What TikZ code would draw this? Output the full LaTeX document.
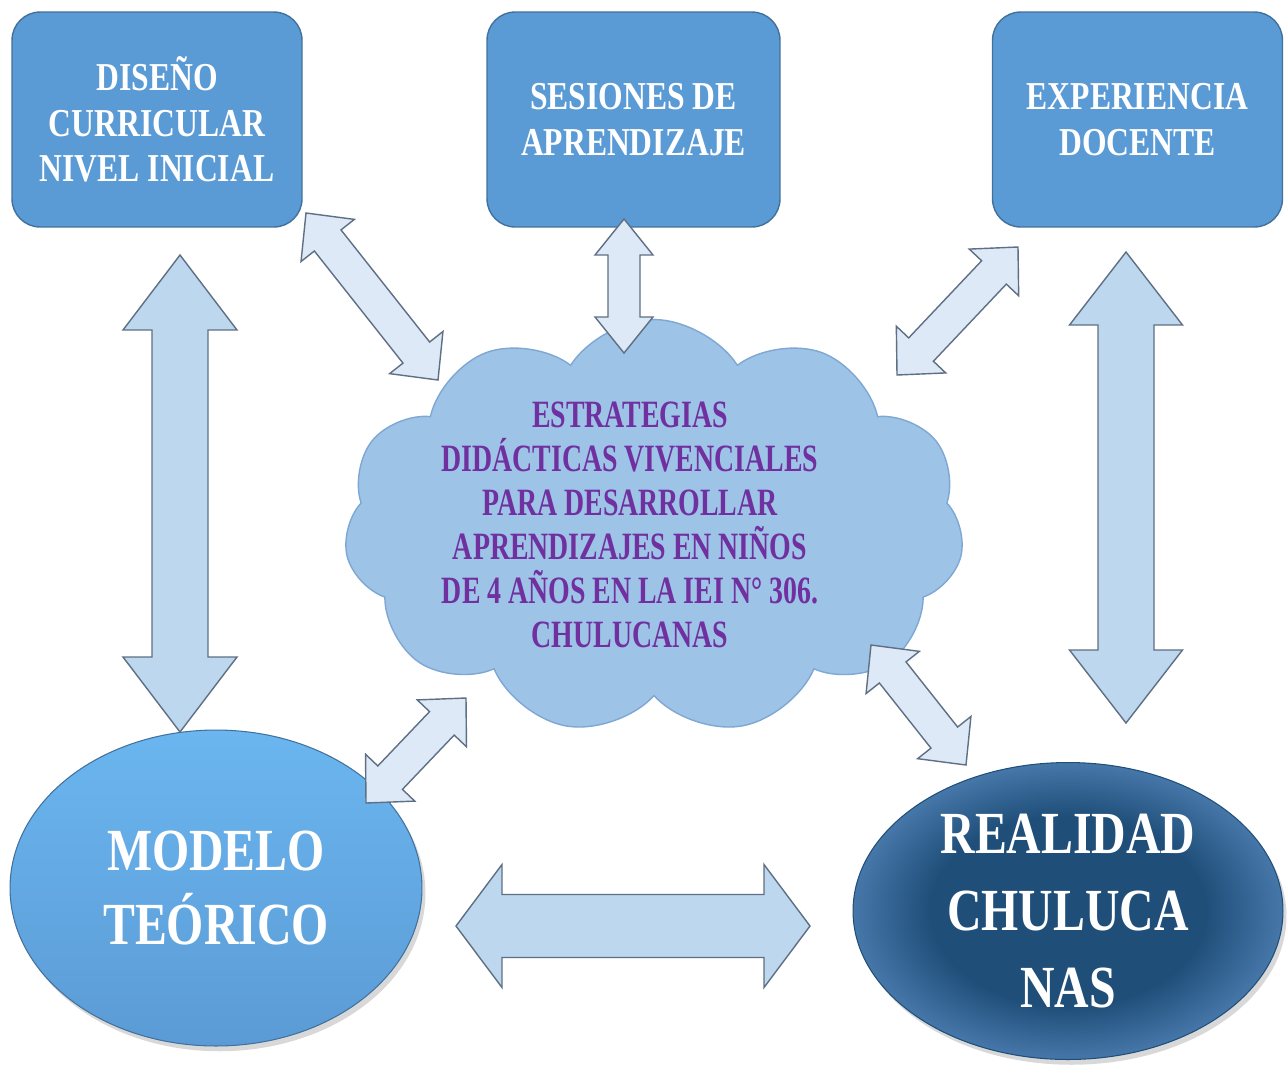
\documentclass[tikz,border=0pt]{standalone}
\usepackage{fontspec}
\setmainfont{Liberation Serif}
\newfontfamily\condfont[FakeStretch=0.8]{Liberation Serif}
\newfontfamily\cloudfont[FakeStretch=0.72]{Liberation Serif}
\usetikzlibrary{calc,shapes.geometric,shapes.symbols,shadows}
\definecolor{boxblue}{HTML}{5B9BD5}
\definecolor{boxline}{HTML}{41719C}
\definecolor{arrowfill}{HTML}{BDD7EE}
\definecolor{arrowpale}{HTML}{DDE9F6}
\definecolor{arrowline}{HTML}{5F6F84}
\definecolor{cloudfill}{HTML}{9DC3E6}
\definecolor{cloudline}{HTML}{7FA7D3}
\definecolor{cloudtext}{HTML}{7030A0}
\definecolor{navy}{HTML}{1F4E79}
\definecolor{navyedge}{HTML}{4677A9}
\definecolor{skyedge}{HTML}{6BB6F0}
\pgfdeclareradialshading{navyglow}{\pgfpoint{0bp}{0bp}}{%
  color(0bp)=(navy); color(16bp)=(navy); color(25bp)=(navyedge); color(50bp)=(navyedge)}
\tikzset{
  topbox/.style={
    rectangle, rounded corners=16pt, draw=boxline, fill=boxblue, line width=0.8pt,
    minimum width=5.8cm, minimum height=4.3cm, align=center, text=white,
    font=\condfont\bfseries\fontsize{22.5}{26}\selectfont
  },
  bigoval/.style={
    ellipse, inner sep=0pt, draw=#1, line width=0.6pt, align=center, text=white,
    drop shadow={shadow xshift=2pt, shadow yshift=-3pt, opacity=0.3}
  },
  cloudbox/.style={
    cloud, cloud puffs=11, cloud puff arc=115, cloud ignores aspect,
    draw=cloudline, fill=cloudfill, line width=0.8pt,
    minimum width=12.4cm, minimum height=8.3cm
  },
  cloudtxt/.style={
    align=center, text=cloudtext,
    font=\cloudfont\bfseries\fontsize{22}{25}\selectfont
  },
  blockarrow/.style={
    draw=arrowline, fill=arrowfill, line width=0.8pt, line join=miter
  },
}
% fat double arrow: [opts]{from}{to}{shaft half}{head half}{head length}
\newcommand{\dblarrow}[6][]{%
  \draw[blockarrow,#1] (#2)
    -- ($(#2)!#6!(#3)!#5!90:(#3)$)
    -- ($(#2)!#6!(#3)!#4!90:(#3)$)
    -- ($(#3)!#6!(#2)!#4!-90:(#2)$)
    -- ($(#3)!#6!(#2)!#5!-90:(#2)$)
    -- (#3)
    -- ($(#3)!#6!(#2)!#5!90:(#2)$)
    -- ($(#3)!#6!(#2)!#4!90:(#2)$)
    -- ($(#2)!#6!(#3)!#4!-90:(#3)$)
    -- ($(#2)!#6!(#3)!#5!-90:(#3)$)
    -- cycle;
}

\begin{document}
\begin{tikzpicture}[x=0.02cm, y=-0.02cm]
  \path[use as bounding box, fill=white] (0,0) rectangle (1288,1066);

  % top boxes
  \node[topbox] (diseno) at (157,119.5) {DISEÑO\\CURRICULAR\\NIVEL INICIAL};
  \node[topbox, minimum width=5.86cm] (sesiones) at (633.5,119.5) {SESIONES DE\\APRENDIZAJE};
  \node[topbox] (docente) at (1137.5,119.5) {EXPERIENCIA\\DOCENTE};

  % central cloud
  \node[cloudbox] (cloud) at (654,527) {};
  \node[cloudtxt] (goal) at (630,525)
    {ESTRATEGIAS\\DIDÁCTICAS VIVENCIALES\\PARA DESARROLLAR\\APRENDIZAJES EN NIÑOS\\DE 4 AÑOS EN LA IEI N° 306.\\CHULUCANAS};

  % bottom ovals
  \node[bigoval=boxline, top color=skyedge, middle color=boxblue, bottom color=boxblue,
        minimum width=8.24cm, minimum height=6.32cm,
        font=\condfont\bfseries\fontsize{34}{42}\selectfont] (modelo) at (216,888)
    {MODELO\\TEÓRICO};
  \node[bigoval=navy, shading=navyglow,
        minimum width=8.6cm, minimum height=5.94cm,
        font=\condfont\bfseries\fontsize{34}{44}\selectfont] (realidad) at (1068,911)
    {REALIDAD\\CHULUCA\\NAS};

  % arrow ends
  \coordinate (lv1) at (180,255);  \coordinate (lv2) at (180,732);
  \coordinate (rv1) at (1126,252); \coordinate (rv2) at (1126,723);
  \coordinate (hz1) at (456,926);  \coordinate (hz2) at (810,926);
  \coordinate (mv1) at (624,219);  \coordinate (mv2) at (624,353);
  \coordinate (ul1) at (306,213);  \coordinate (ul2) at (438,380);
  \coordinate (ur1) at (1018,247); \coordinate (ur2) at (897,375);
  \coordinate (ll1) at (466,698);  \coordinate (ll2) at (366,803);
  \coordinate (lr1) at (871,645);  \coordinate (lr2) at (966,765);

  % arrows
  \dblarrow{lv1}{lv2}{0.56cm}{1.14cm}{1.5cm}
  \dblarrow{rv1}{rv2}{0.56cm}{1.13cm}{1.46cm}
  \dblarrow{hz1}{hz2}{0.63cm}{1.23cm}{0.92cm}
  \dblarrow[fill=arrowpale]{mv1}{mv2}{0.32cm}{0.58cm}{0.72cm}
  \dblarrow[fill=arrowpale]{ul1}{ul2}{0.34cm}{0.68cm}{0.7cm}
  \dblarrow[fill=arrowpale]{ur1}{ur2}{0.34cm}{0.68cm}{0.7cm}
  \dblarrow[fill=arrowpale]{ll1}{ll2}{0.34cm}{0.68cm}{0.7cm}
  \dblarrow[fill=arrowpale]{lr1}{lr2}{0.34cm}{0.68cm}{0.7cm}
\end{tikzpicture}
\end{document}
